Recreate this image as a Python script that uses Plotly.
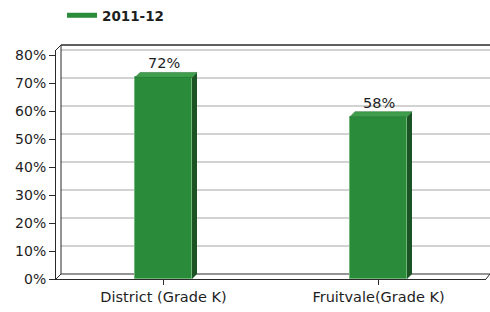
import plotly.graph_objects as go

# ---- data ----
categories = ["District (Grade K)", "Fruitvale(Grade K)"]
values_2011_12 = [72, 58]
series_name = "2011-12"
y_ticks = [0, 10, 20, 30, 40, 50, 60, 70, 80]
y_tick_labels = [f"{v}%" for v in y_ticks]

# ---- geometry / style ----
W, H = 490, 312
ML, MR, MT, MB = 56, 4, 50, 33
PW = W - ML - MR          # plot width px
PH = H - MT - MB          # plot height px
YMAX = 81.8
X_RANGE = [-0.5, 1.5]
DEPTH_PX = 5
dxu = DEPTH_PX / PW * (X_RANGE[1] - X_RANGE[0])
dyu = DEPTH_PX / PH * YMAX
BAR_W = 57 / PW * (X_RANGE[1] - X_RANGE[0])

GREEN = "#2a8b3b"
GREEN_TOP = "#3f9e4c"
GREEN_SIDE = "#1b5324"
FONT = "DejaVu Sans, Verdana, sans-serif"
TXT = "#1e1e1e"

fig = go.Figure()
fig.add_trace(go.Bar(
    x=categories, y=values_2011_12, width=BAR_W,
    marker=dict(color=GREEN, line=dict(color="#6fb878", width=1)),
    showlegend=False, hoverinfo="skip",
))
# legend entry drawn as a line sample
fig.add_trace(go.Scatter(
    x=[None], y=[None], mode="lines", name=f"<b>{series_name}</b>",
    line=dict(color=GREEN, width=5),
))

# helpers: pixel -> paper
pxx = lambda p: (p - ML) / PW
yv = lambda v: v / YMAX            # data value -> paper y
DY = DEPTH_PX / PH                  # depth in paper y
BACK_L = pxx(ML + DEPTH_PX)
RIGHT = pxx(W)

shapes = []
# back-wall gridlines (offset by depth)
for v in y_ticks[1:]:
    shapes.append(dict(type="line", xref="paper", yref="paper",
                       x0=BACK_L, x1=RIGHT, y0=yv(v) + DY, y1=yv(v) + DY,
                       line=dict(color="#d2d2d2", width=2), layer="below"))
frame = dict(color="#2a2a2a", width=1)
shapes += [
    # back wall top
    dict(type="line", xref="paper", yref="paper", x0=BACK_L, x1=RIGHT,
         y0=1 + DY, y1=1 + DY, line=dict(color="#2a2a2a", width=1.6), layer="below"),
    # top-left slant
    dict(type="line", xref="paper", yref="paper", x0=0, x1=BACK_L,
         y0=1, y1=1 + DY, line=frame, layer="below"),
    # back wall left edge
    dict(type="line", xref="paper", yref="paper", x0=BACK_L, x1=BACK_L,
         y0=DY, y1=1 + DY, line=frame, layer="below"),
    # floor back edge
    dict(type="line", xref="paper", yref="paper", x0=BACK_L, x1=RIGHT,
         y0=DY, y1=DY, line=frame, layer="below"),
    # floor left slant
    dict(type="line", xref="paper", yref="paper", x0=0, x1=BACK_L,
         y0=0, y1=DY, line=frame, layer="below"),
    # floor right slant
    dict(type="line", xref="paper", yref="paper", x0=1, x1=RIGHT,
         y0=0, y1=DY, line=frame, layer="below"),
]
# 3D faces of bars
for i, v in enumerate(values_2011_12):
    xl, xr = i - BAR_W / 2, i + BAR_W / 2
    shapes.append(dict(type="path", xref="x", yref="y",
                       path=f"M {xr},0 L {xr+dxu},{dyu} L {xr+dxu},{v+dyu} L {xr},{v} Z",
                       fillcolor=GREEN_SIDE, line=dict(width=0), layer="above"))
    shapes.append(dict(type="path", xref="x", yref="y",
                       path=f"M {xl},{v} L {xl+dxu},{v+dyu} L {xr+dxu},{v+dyu} L {xr},{v} Z",
                       fillcolor=GREEN_TOP, line=dict(color="#1f6a2c", width=0.5), layer="above"))

annotations = []
for i, v in enumerate(values_2011_12):
    annotations.append(dict(x=i, y=v, xref="x", yref="y", text=f"{v}%",
                            showarrow=False, yanchor="bottom", yshift=4,
                            font=dict(family=FONT, size=14.5, color=TXT)))

fig.update_layout(
    width=W, height=H,
    margin=dict(l=ML, r=MR, t=MT, b=MB, pad=0),
    paper_bgcolor="white", plot_bgcolor="rgba(0,0,0,0)",
    font=dict(family=FONT, size=14, color=TXT),
    shapes=shapes, annotations=annotations,
    bargap=0,
    showlegend=True,
    legend=dict(orientation="h", xref="container", yref="container",
                x=62 / W, y=1 - 0 / H, xanchor="left", yanchor="top",
                bgcolor="rgba(0,0,0,0)", font=dict(family=FONT, size=13.5, color=TXT)),
    xaxis=dict(range=X_RANGE, showgrid=False, zeroline=False,
               showline=True, linecolor="#2a2a2a", linewidth=1,
               ticks="outside", ticklen=5, tickcolor="#2a2a2a",
               tickfont=dict(family=FONT, size=14.5, color=TXT), fixedrange=True),
    yaxis=dict(range=[0, YMAX], showgrid=False, zeroline=False,
               showline=True, linecolor="#2a2a2a", linewidth=1,
               ticks="outside", ticklen=6, tickcolor="#2a2a2a",
               tickvals=y_ticks, ticktext=y_tick_labels,
               tickfont=dict(family=FONT, size=14, color=TXT), fixedrange=True),
)

fig.write_html("out.html", config={"displayModeBar": False},
               post_script="document.body.style.margin='0';")
